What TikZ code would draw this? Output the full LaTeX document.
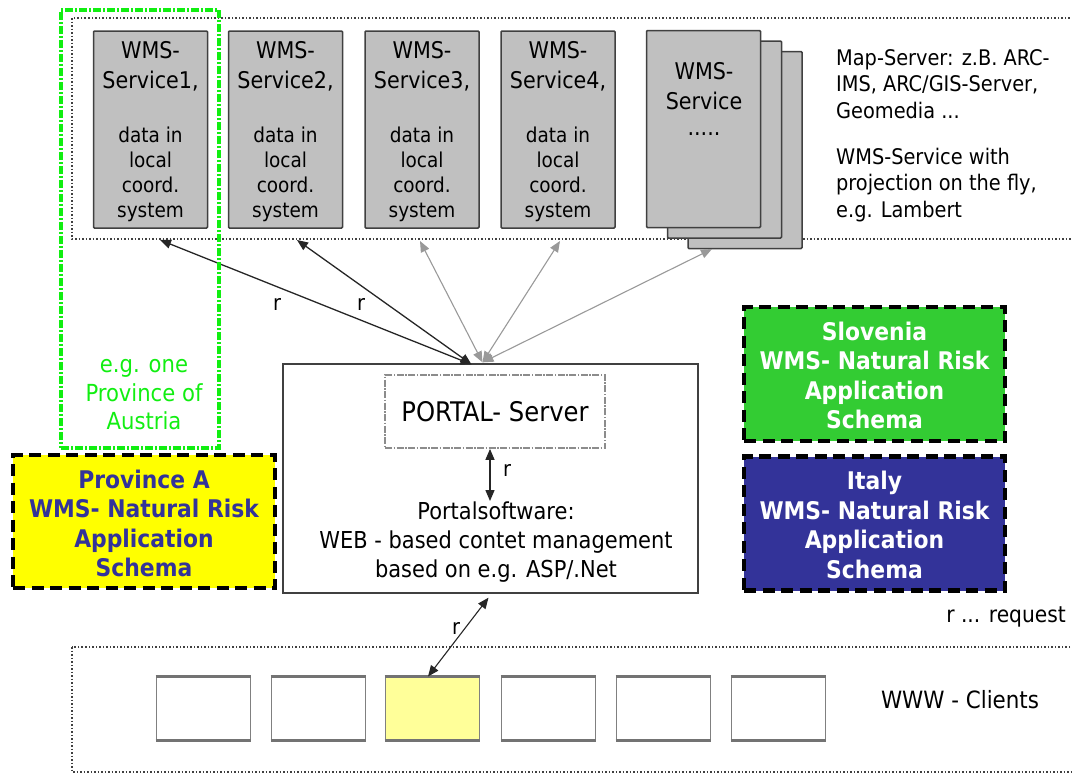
\documentclass[tikz,border=0pt]{standalone}
\usepackage{fontspec}
\setmainfont{DejaVu Sans Condensed}
\usetikzlibrary{arrows.meta,calc}

\definecolor{boxgray}{HTML}{C0C0C0}
\definecolor{edgegray}{HTML}{404040}
\definecolor{austria}{HTML}{11EE11}
\definecolor{provyellow}{HTML}{FFFF00}
\definecolor{slogreen}{HTML}{33CC33}
\definecolor{itablue}{HTML}{333399}
\definecolor{schemablue}{HTML}{333399}
\definecolor{clientyellow}{HTML}{FFFF99}
\definecolor{linkgray}{HTML}{999999}

\newcommand\fsz[2]{\fontsize{#1}{#2}\selectfont}

\tikzset{
  frame/.style={draw=black!75, line width=1.2pt, dash pattern=on 1.5pt off 2pt},
  wms/.style={draw=edgegray, fill=boxgray, line width=1.5pt, rounded corners=1pt,
              minimum width=114pt, minimum height=197pt, inner sep=0pt},
  title/.style={font=\fsz{23}{30}, align=center, inner sep=0pt},
  body/.style={font=\fsz{20.5}{25}, align=center, inner sep=0pt},
  plain/.style={font=\fsz{21.5}{28}, align=center, inner sep=0pt},
  schema/.style={draw=black, line width=4.5pt, dash pattern=on 12pt off 6.5pt,
                 minimum width=261pt, minimum height=134pt, inner sep=0pt},
  schematext/.style={font=\bfseries\fsz{24.3}{29.5}, align=center, inner sep=0pt},
  client/.style={draw=black!50, line width=1pt, fill=white,
                 minimum width=94pt, minimum height=63pt, inner sep=0pt},
  clientedge/.style={draw=black!55, line width=2.5pt},
  tipk/.tip={Triangle[length=11pt,width=9pt]},
  req/.style={line width=1.3pt, draw=black!85, tipk-tipk},
  reqgray/.style={line width=1.1pt, draw=linkgray, tipk-tipk},
}

\begin{document}
\begin{tikzpicture}[x=1pt, y=-1pt]
\useasboundingbox (0,0) rectangle (1072,774);

% map server tier
\draw[frame] (72,18) rectangle (1090,239);

\foreach \n/\cx/\k in {w1/150.5/1, w2/285.5/2, w3/422/3, w4/558/4}{
  \node[wms] (\n) at (\cx,129.5) {};
  \node[title] (\n t) at (\cx,66.5) {WMS-\\Service\k,};
  \node[body] (\n b) at (\cx,174.5) {data in\\local\\coord.\\system};
}

% stacked generic services
\node[wms] (s3) at (745,150) {};
\node[wms] (s2) at (724.5,139.5) {};
\node[wms] (s1) at (703.5,129) {};
\node[title] (s1t) at (704,86.5) {WMS-\\Service};
\node[title] (s1d) at (704,134) {.....};

\node[font=\fsz{21.5}{26.5}, align=left, anchor=west, inner sep=0pt] (mapinfo)
  at (836,84) {Map-Server: z.B. ARC-\\IMS, ARC/GIS-Server,\\Geomedia ...};
\node[font=\fsz{21.5}{26.5}, align=left, anchor=west, inner sep=0pt] (projinfo)
  at (836,185) {WMS-Service with\\projection on the fly,\\e.g. Lambert};

% portal
\node[draw=edgegray, fill=white, line width=1.3pt, minimum width=415pt,
      minimum height=229pt, inner sep=0pt] (portal) at (490.5,478.5) {};
\node[draw=black!45, line width=1.8pt,
      dash pattern=on 7pt off 1.5pt on 1.5pt off 1.5pt,
      minimum width=220pt, minimum height=73pt, inner sep=0pt,
      font=\fsz{27}{30}] (server) at (495,411.5) {PORTAL- Server};
\node[plain, font=\fsz{23.3}{29}] (soft) at (496,542)
  {Portalsoftware:\\WEB - based contet management\\based on e.g. ASP/.Net};
\coordinate (sa) at ([xshift=-5pt]server.south);
\coordinate (sb) at (490,501);
\draw[req] (sa) -- (sb);
\node[plain] (rs) at (507,470) {r};

% request links from the portal to the map services
\coordinate (hubk) at ([xshift=-19pt,yshift=-1pt]portal.north);
\coordinate (hubg) at ([xshift=-8pt,yshift=1pt]portal.north);
\coordinate (t1) at (160,240);
\coordinate (t2) at (297,240);
\coordinate (t3) at (420,241);
\coordinate (t4) at (560,241);
\coordinate (t5) at (712,249);
\draw[reqgray] (hubg) -- (t3);
\draw[reqgray] (hubg) -- (t4);
\draw[reqgray] (hubg) -- (t5);
\draw[req] (hubk) -- (t1);
\draw[req] (hubk) -- (t2);
\node[plain] (r1) at (277,304) {r};
\node[plain] (r2) at (361,304) {r};

% regional frame
\node[draw=austria, line width=3.2pt,
      dash pattern=on 8pt off 2pt on 2pt off 2pt,
      minimum width=158pt, minimum height=438pt, inner sep=0pt] (austriabox) at (140,229) {};
\node[plain, text=austria, font=\fsz{23.5}{28.5}] (austriatext) at (144,395) {e.g. one\\Province of\\Austria};

% application schemas
\node[schema, fill=provyellow, minimum width=262pt, minimum height=133pt] (provA) at (144,521.5) {};
\node[schematext, text=schemablue] (provAt) at (144,523.5)
  {Province A\\WMS- Natural Risk\\Application\\Schema};
\node[schema, fill=slogreen] (slo) at (874.5,374) {};
\node[schematext, text=white] (slot) at (874.5,375.5)
  {Slovenia\\WMS- Natural Risk\\Application\\Schema};
\node[schema, fill=itablue] (ita) at (874.5,523.5) {};
\node[schematext, text=white] (itat) at (874.5,525)
  {Italy\\WMS- Natural Risk\\Application\\Schema};

\node[plain, font=\fsz{22.5}{28}, anchor=east] (legend) at (1066,617) {r ... request};

% web clients
\draw[frame] (72,647) rectangle (1090,772);
\foreach \n/\cx/\f in {c1/203/white, c2/318/white, c3/432/clientyellow,
                       c4/548/white, c5/663/white, c6/778/white}{
  \node[client, fill=\f] (\n) at (\cx,708.5) {};
  \draw[clientedge] (\n.north west) -- (\n.north east);
  \draw[clientedge] (\n.south west) -- (\n.south east);
}
\node[plain, font=\fsz{23.8}{28}] (clients) at (960,700) {WWW - Clients};

\coordinate (ca) at ([xshift=-4pt]c3.north);
\coordinate (cb) at ([xshift=-2pt,yshift=-4pt]portal.south);
\draw[req, line width=1.1pt] (ca) -- (cb);
\node[plain] (rc) at (456,628) {r};
\end{tikzpicture}
\end{document}
